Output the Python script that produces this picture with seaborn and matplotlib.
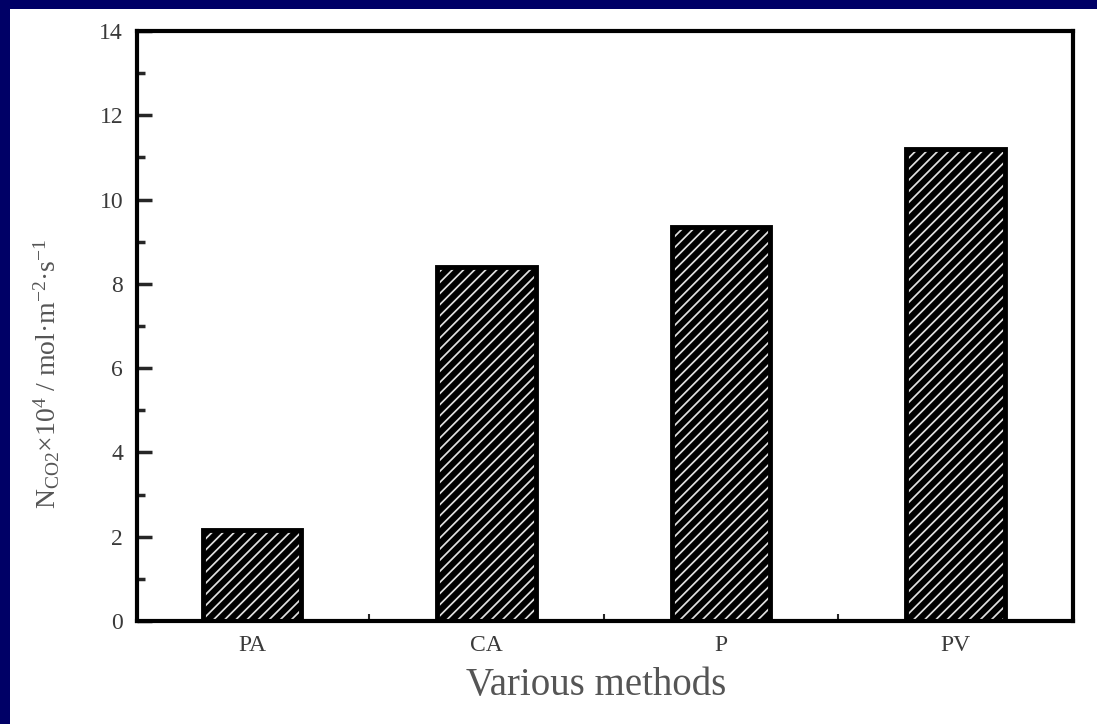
import matplotlib
matplotlib.use("Agg")
import matplotlib.pyplot as plt
import seaborn as sns
import pandas as pd
from matplotlib.patches import Rectangle
from matplotlib.ticker import MultipleLocator, FixedLocator

methods = ["PA", "CA", "P", "PV"]
flux = [2.17, 8.39, 9.36, 11.2]
y_ticks = [0, 2, 4, 6, 8, 10, 12, 14]

sns.set_theme(style="white")
plt.rcParams["font.family"] = ["Liberation Serif", "DejaVu Serif"]
plt.rcParams["mathtext.fontset"] = "custom"
plt.rcParams["mathtext.rm"] = "Liberation Serif"
plt.rcParams["mathtext.it"] = "Liberation Serif:italic"
plt.rcParams["hatch.linewidth"] = 1.25

df = pd.DataFrame({"method": methods, "flux": flux})

fig = plt.figure(figsize=(10.97, 7.24), dpi=100, facecolor="white")
# slide frame: navy strips on the left and top only
fig.add_artist(Rectangle((0, 0), 10 / 1097, 1, transform=fig.transFigure,
                         facecolor="#000066", edgecolor="none", zorder=0))
fig.add_artist(Rectangle((0, 1 - 9 / 724), 1, 9 / 724, transform=fig.transFigure,
                         facecolor="#000066", edgecolor="none", zorder=0))

ax = fig.add_axes([137 / 1097, 103 / 724, 936 / 1097, 590 / 724])

sns.barplot(data=df, x="method", y="flux", ax=ax, color="black",
            width=0.42, edgecolor="#e0e0e0", hatch="///", linewidth=0, saturation=1)
sns.barplot(data=df, x="method", y="flux", ax=ax, fill=False,
            width=0.42, edgecolor="black", linewidth=3.5, saturation=1)

ax.set_xlim(-0.49, 3.5)
ax.set_ylim(0, 14)
ax.yaxis.set_major_locator(FixedLocator(y_ticks))
ax.yaxis.set_minor_locator(MultipleLocator(1))
ax.xaxis.set_minor_locator(FixedLocator([0.5, 1.5, 2.5]))

for s in ax.spines.values():
    s.set_color("black")
    s.set_linewidth(3)
    s.set_visible(True)

ax.tick_params(axis="y", which="major", direction="in", length=11, width=2.5,
               left=True, right=False, labelsize=17, labelcolor="#3a3a3a", pad=10)
ax.tick_params(axis="y", which="minor", direction="in", length=6, width=2.5,
               left=True, right=False)
ax.tick_params(axis="x", which="major", length=0, labelsize=17,
               labelcolor="#3a3a3a", pad=10)
ax.tick_params(axis="x", which="minor", direction="in", length=5, width=1.5,
               bottom=True, top=False)

ax.set_xlabel("Various methods", fontsize=28, color="#555555")
ax.xaxis.set_label_coords(0.49, -0.078)
ax.set_ylabel(r"N$_{\mathrm{CO2}}$×10$^{4}$ / mol·m$^{-2}$·s$^{-1}$",
              fontsize=20, color="#555555")
ax.yaxis.set_label_coords(-0.08, 0.42)

fig.savefig("out.png", dpi=100, facecolor="white")
